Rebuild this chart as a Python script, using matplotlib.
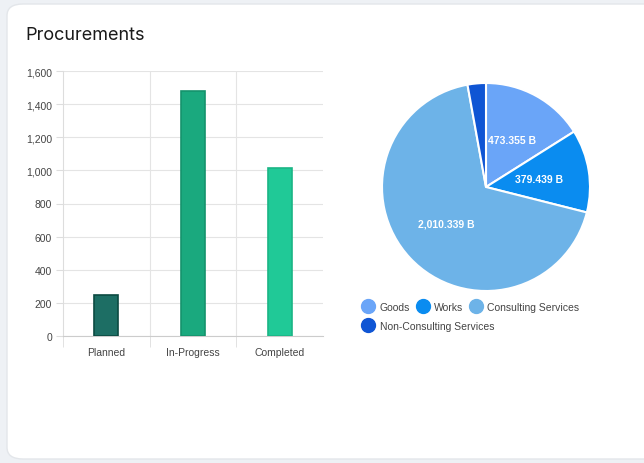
import numpy as np
import matplotlib.pyplot as plt
from matplotlib.patches import FancyBboxPatch
from matplotlib.lines import Line2D

# data
stages = ['Planned', 'In-Progress', 'Completed']
counts = [246, 1482, 1013]
bar_colors = ['#1d6e64', '#1aa97e', '#20c997']
bar_edges = ['#0c4a42', '#14936c', '#1bb585']

categories = ['Goods', 'Works', 'Consulting Services', 'Non-Consulting Services']
amounts = [473.355, 379.439, 2010.339, 84.0]
pie_colors = ['#6aa5f8', '#0a8cf0', '#6db3e8', '#0f55d4']
yticks = [0, 200, 400, 600, 800, 1000, 1200, 1400, 1600]

W, H = 644, 464
plt.rcParams['font.family'] = ['Liberation Sans', 'DejaVu Sans']
fig = plt.figure(figsize=(W / 100, H / 100), dpi=100)
fig.patch.set_facecolor('#eef1f5')

# white card behind everything
card = FancyBboxPatch((7 / W, 4 / H), 700 / W, 455 / H,
                      boxstyle='round,pad=0,rounding_size=0.025',
                      transform=fig.transFigure, facecolor='white',
                      edgecolor='#e3e6ea', linewidth=1, zorder=-10)
fig.patches.append(card)

fig.text(25 / W, 1 - 35 / H, 'Procurements', fontsize=13, va='center',
         ha='left', color='#1a1a1a', family=['Inter', 'DejaVu Sans'])

# bar chart
ax = fig.add_axes([63 / W, 127 / H, 260 / W, 265 / H])
ax.patch.set_alpha(0)
ax.bar(range(len(stages)), counts, width=0.28, color=bar_colors,
       edgecolor=bar_edges, linewidth=1.2, zorder=3)
ax.set_xlim(-0.5, 2.5)
ax.set_ylim(0, 1600)
ax.set_yticks(yticks)
ax.set_yticklabels([f'{v:,}' for v in yticks])
ax.set_xticks(range(len(stages)))
ax.set_xticklabels(stages)
ax.set_xticks([-0.5, 0.5, 1.5], minor=True)
ax.tick_params(axis='x', which='major', length=0, pad=8, labelsize=7.5, labelcolor='#444444')
ax.tick_params(axis='x', which='minor', length=8, color='#dddddd')
ax.tick_params(axis='y', length=5, color='#dddddd', labelsize=7.5, labelcolor='#444444', pad=3)
ax.grid(axis='y', color='#e4e4e4', linewidth=0.8, zorder=0)
for xv in [0.5, 1.5]:
    ax.axvline(xv, color='#e4e4e4', linewidth=0.8, zorder=0)
for s in ['top', 'right']:
    ax.spines[s].set_visible(False)
ax.spines['left'].set_color('#dddddd')
ax.spines['bottom'].set_color('#cccccc')

# pie chart
pax = fig.add_axes([382 / W, 172 / H, 208 / W, 208 / H])
wedges, _ = pax.pie(amounts, colors=pie_colors, startangle=90, counterclock=False,
                    radius=1, wedgeprops=dict(edgecolor='white', linewidth=1.5))
pax.set_xlim(-1, 1)
pax.set_ylim(-1, 1)
pax.set_aspect('equal')
for w, v in zip(wedges[:3], amounts[:3]):
    ang = np.deg2rad((w.theta1 + w.theta2) / 2)
    r = 0.52
    pax.text(r * np.cos(ang), r * np.sin(ang), f'{v:,.3f} B', ha='center', va='center',
             color='white', fontsize=7.5, fontweight='bold')

handles = [Line2D([], [], marker='o', linestyle='none', markersize=10,
                  markerfacecolor=c, markeredgecolor=c) for c in pie_colors]
fig.legend(handles[:3], categories[:3], loc='center left',
           bbox_to_anchor=(358 / W, 1 - 308 / H), ncol=3, frameon=False,
           fontsize=7.5, labelcolor='#444444', handletextpad=0.1, columnspacing=0.2,
           borderaxespad=0, borderpad=0)
fig.legend(handles[3:], categories[3:], loc='center left',
           bbox_to_anchor=(358 / W, 1 - 327 / H), ncol=1, frameon=False,
           fontsize=7.5, labelcolor='#444444', handletextpad=0.1,
           borderaxespad=0, borderpad=0)

fig.savefig('out.png', dpi=100, facecolor=fig.get_facecolor())
